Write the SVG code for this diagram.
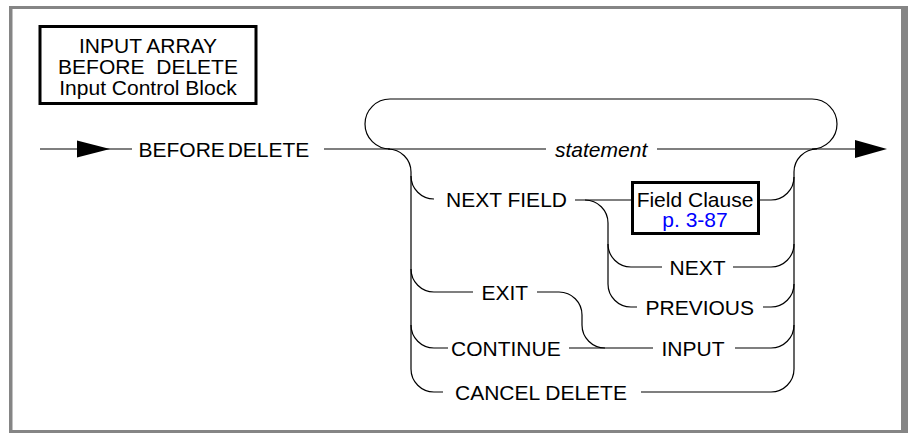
<svg xmlns="http://www.w3.org/2000/svg" width="908" height="433" viewBox="0 0 908 433">
<style>
.t{font-family:"Liberation Sans",Arial,sans-serif;font-size:21px;fill:#000}
.i{font-style:italic}
.m{text-anchor:middle}
.c{fill:none;stroke:#000;stroke-width:1.2}
.b{fill:none;stroke:#000;stroke-width:3}
.f{fill:#858585}
</style>
<rect width="908" height="433" fill="#fff"/>
<g id="frame">
<rect class="f" x="9" y="6" width="899" height="3"/>
<rect class="f" x="9" y="6" width="3.5" height="427"/>
<rect class="f" x="901" y="6" width="7" height="427"/>
<rect class="f" x="9" y="430" width="899" height="3"/>
</g>
<g id="title">
<rect class="b" x="40" y="26.5" width="216" height="77" fill="#fff"/>
<text class="t m" x="148" y="53">INPUT ARRAY</text>
<text class="t m" x="148" y="74" word-spacing="6">BEFORE DELETE</text>
<text class="t m" x="148" y="94.5">Input Control Block</text>
</g>
<g id="connectors">
<path class="c" d="M40 149H132"/>
<polygon points="77,140.5 110,149 77,157.5"/>
<path class="c" d="M324 149H546M657 149H856"/>
<polygon points="855,140 887,149 855,158"/>
<path class="c" d="M390 149A25 25 0 0 1 390 99H812A25 25 0 0 1 812 149"/>
<path class="c" d="M388 149A23 23 0 0 1 411 172V369"/>
<path class="c" d="M794 369V172A23 23 0 0 1 817 149"/>
<path class="c" d="M411 176A23 23 0 0 0 434 199"/>
<path class="c" d="M575 200H631"/>
<path class="c" d="M760 200H771A23 23 0 0 0 794 177"/>
<path class="c" d="M585 200A23 23 0 0 1 608 223V284"/>
<path class="c" d="M608 244A23 23 0 0 0 631 267H662"/>
<path class="c" d="M733 267H771A23 23 0 0 0 794 244"/>
<path class="c" d="M608 284A23 23 0 0 0 631 307H637"/>
<path class="c" d="M763 307H771A23 23 0 0 0 794 284"/>
<path class="c" d="M411 269A23 23 0 0 0 434 292H473"/>
<path class="c" d="M537 292H559A23 23 0 0 1 582 315V325A23 23 0 0 0 605 348"/>
<path class="c" d="M411 325A23 23 0 0 0 434 348H448"/>
<path class="c" d="M569 348H653"/>
<path class="c" d="M735 348H771A23 23 0 0 0 794 325"/>
<path class="c" d="M411 369A23 23 0 0 0 434 392H443"/>
<path class="c" d="M641 392H771A23 23 0 0 0 794 369"/>
</g>
<g id="n-before"><text class="t" x="138.5" y="156.5" word-spacing="-3">BEFORE DELETE</text></g>
<g id="n-statement"><text class="t i" x="555" y="156.5">statement</text></g>
<g id="n-nextfield"><text class="t" x="446" y="206.5">NEXT FIELD</text></g>
<g id="n-fieldclause">
<rect class="b" x="632.5" y="182.5" width="126" height="51" fill="#fff"/>
<text class="t m" x="695" y="206.5">Field Clause</text>
<text class="t m" x="695" y="227" style="fill:#0000ff">p. 3-87</text>
</g>
<g id="n-next"><text class="t" x="669.5" y="274.5">NEXT</text></g>
<g id="n-previous"><text class="t" x="645.5" y="314.5">PREVIOUS</text></g>
<g id="n-exit"><text class="t" x="481.5" y="299.5">EXIT</text></g>
<g id="n-continue"><text class="t" x="451" y="356">CONTINUE</text></g>
<g id="n-input"><text class="t" x="661.5" y="356">INPUT</text></g>
<g id="n-cancel"><text class="t" x="455" y="399.5">CANCEL DELETE</text></g>
</svg>
